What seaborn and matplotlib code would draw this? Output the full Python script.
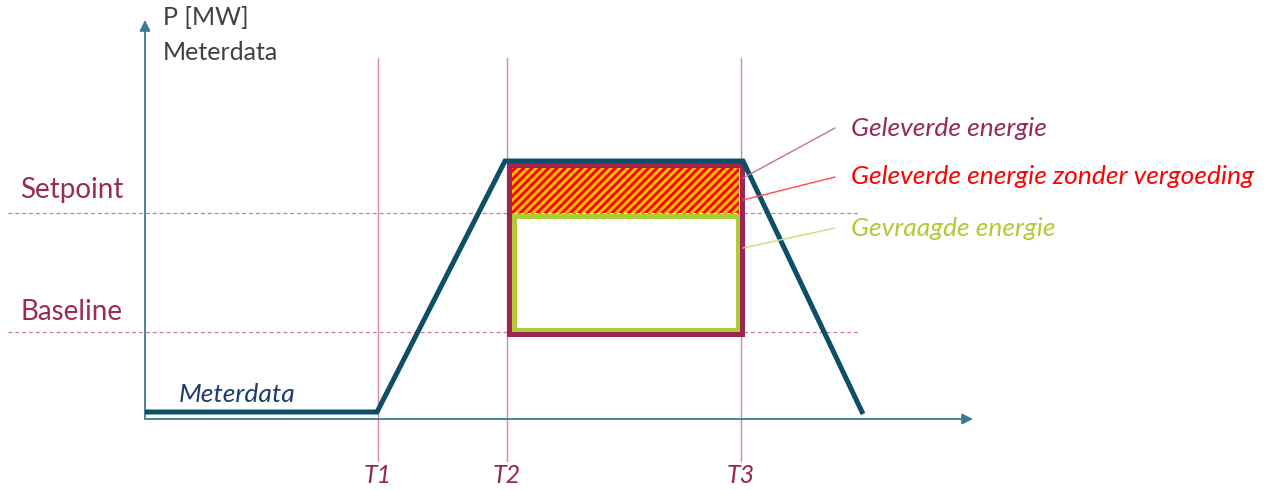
import matplotlib
matplotlib.use("Agg")
import matplotlib.pyplot as plt
import seaborn as sns
import pandas as pd
from matplotlib.patches import Rectangle

# ---- data (time / power in arbitrary diagram units) ----
meter_time = [0, 232, 360, 598, 718]
meter_power = [7, 7, 258, 258, 5]
t_marks = [232.5, 362, 596]
t_labels = ["T1", "T2", "T3"]
setpoint = 206
baseline = 87
peak = 255
level_labels = ["Setpoint", "Baseline"]
legend_labels = ["Geleverde energie", "Geleverde energie zonder vergoeding", "Gevraagde energie"]
legend_y = [291, 242, 191]
leader_start_y = [241, 219, 171]

sns.set_theme(style="white")
plt.rcParams['font.family'] = ['Lato', 'DejaVu Sans']
plt.rcParams['hatch.linewidth'] = 2.1

fig = plt.figure(figsize=(12.69, 4.90), dpi=100)
ax = fig.add_axes([0, 0, 1, 1])

DARKRED = "#9c2552"
GREEN = "#afcb37"
TEAL = "#0c4f67"
AXC = "#3d7b92"

# axes arrows
ax.annotate("", xy=(0, 399), xytext=(0, 0),
            arrowprops=dict(arrowstyle="-|>", color=AXC, lw=1.3, mutation_scale=16, shrinkA=0, shrinkB=0))
ax.annotate("", xy=(828, 0), xytext=(0, 0),
            arrowprops=dict(arrowstyle="-|>", color=AXC, lw=1.3, mutation_scale=16, shrinkA=0, shrinkB=0))

# T vertical lines
for t in t_marks:
    ax.plot([t, t], [-42, 361], color="#d28aa7", lw=1.0, zorder=1)

# dashed level lines
for lvl in [setpoint, baseline]:
    ax.plot([-137, 715], [lvl, lvl], color="#d0709a", lw=0.9, ls=(0, (3, 2.5)), zorder=1)

# hatched area (delivered without compensation)
x0, x1 = t_marks[1], t_marks[2]
ax.add_patch(Rectangle((x0 + 4, setpoint), (x1 - x0) - 6, peak - setpoint - 3,
                       facecolor="#ffc000", edgecolor="#ff0000", hatch="////", lw=0, zorder=2))
# requested energy (green)
ax.add_patch(Rectangle((x0 + 6.5, baseline + 2.5), (x1 - x0) - 9.5, setpoint - baseline - 6,
                       facecolor="white", edgecolor=GREEN, lw=3.6, zorder=3))
# delivered energy (dark red)
ax.add_patch(Rectangle((x0 + 1.5, baseline - 1.5), (x1 - x0) - 0.5, peak - baseline,
                       facecolor="none", edgecolor=DARKRED, lw=3.6, zorder=4))

# meter data line
df = pd.DataFrame({"t": meter_time, "p": meter_power})
sns.lineplot(data=df, x="t", y="p", ax=ax, color=TEAL, lw=3.6, sort=False, zorder=5,
             solid_joinstyle="miter", solid_capstyle="butt")
ax.set_xlim(-145, 1124)
ax.set_ylim(-71, 419)
ax.axis("off")

# leader lines
lead_colors = ["#c07494", "#ff4c4c", "#cadd7c"]
for ys, yl, c in zip(leader_start_y, legend_y, lead_colors):
    ax.plot([598, 690], [ys, yl], color=c, lw=1.0, zorder=6)

# legend texts
text_colors = ["#98285a", "#ff0000", GREEN]
for lab, y, c in zip(legend_labels, legend_y, text_colors):
    ax.text(706, y, lab, color=c, fontsize=19, style="italic", ha="left", va="center")

# level labels
ax.text(-125, 229, level_labels[0], color="#9b2a55", fontsize=20, ha="left", va="center")
ax.text(-125, 107, level_labels[1], color="#9b2a55", fontsize=20, ha="left", va="center")

# T labels
for t, lab in zip(t_marks, t_labels):
    ax.text(t, -56, lab, color="#9b2550", fontsize=18, style="italic", ha="center", va="center")

# axis titles
ax.text(18, 401, "P [MW]", color="#404040", fontsize=18, ha="left", va="center")
ax.text(18, 367, "Meterdata", color="#404040", fontsize=18, ha="left", va="center")
ax.text(34, 24, "Meterdata", color="#1f3a6e", fontsize=19, style="italic", ha="left", va="center")

fig.savefig("out.png", dpi=100)
